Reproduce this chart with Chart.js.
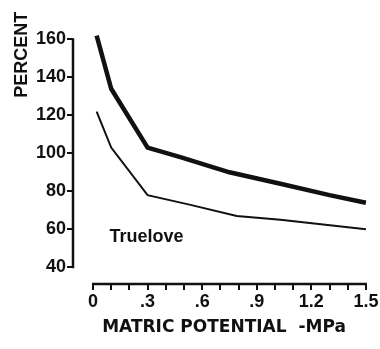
<!DOCTYPE html>
<html>
<head>
<meta charset="utf-8">
<script src="https://cdn.jsdelivr.net/npm/chart.js@4"></script>
<style>
  html, body { margin: 0; padding: 0; background: #fff; }
</style>
</head>
<body>
<canvas id="chart" width="380" height="349"></canvas>
<script>
// upper (thick) curve
const UPPER_X = [0.02, 0.1, 0.3, 0.48, 0.75, 1.03, 1.3, 1.5];
const UPPER_Y = [162, 134, 103, 98, 90, 84, 78, 74];
// lower (thin) curve
const LOWER_X = [0.02, 0.1, 0.3, 0.53, 0.79, 1.03, 1.5];
const LOWER_Y = [122, 103, 78, 73, 67, 65, 60];

const X_TICKS = [0, 0.1, 0.2, 0.3, 0.4, 0.5, 0.6, 0.7, 0.8, 0.9, 1.0, 1.1, 1.2, 1.3, 1.4, 1.5];
const X_LABEL_AT = [0, 0.3, 0.6, 0.9, 1.2, 1.5];
const X_LABELS = ['0', '.3', '.6', '.9', '1.2', '1.5'];
const Y_TICKS = [40, 60, 80, 100, 120, 140, 160];

const NOTE_TEXT = 'Truelove';
const NOTE_X = 0.09;
const NOTE_Y = 53.5;

const INK = '#111';
const FONT = '"Liberation Sans", Arial, sans-serif';
const WIDE_FONT = '"DejaVu Sans", sans-serif';

const toPoints = (xs, ys) => xs.map((x, i) => ({ x, y: ys[i] }));

// axis lines only over the labelled range, plus the text note
const axisLines = {
  id: 'axisLines',
  afterDraw(chart) {
    const { ctx, chartArea, scales: { x, y } } = chart;
    ctx.save();
    ctx.strokeStyle = INK;
    ctx.lineWidth = 2.5;
    ctx.beginPath();
    ctx.moveTo(chartArea.left, y.getPixelForValue(Y_TICKS[Y_TICKS.length - 1]) - 1);
    ctx.lineTo(chartArea.left, y.getPixelForValue(Y_TICKS[0]) + 1);
    ctx.moveTo(x.getPixelForValue(X_TICKS[0]) - 1, chartArea.bottom);
    ctx.lineTo(x.getPixelForValue(X_TICKS[X_TICKS.length - 1]) + 1, chartArea.bottom);
    ctx.stroke();

    ctx.fillStyle = INK;
    ctx.font = 'bold 18px ' + FONT;
    ctx.textBaseline = 'alphabetic';
    ctx.fillText(NOTE_TEXT, x.getPixelForValue(NOTE_X), y.getPixelForValue(NOTE_Y));
    ctx.restore();
  }
};

new Chart(document.getElementById('chart'), {
  type: 'line',
  data: {
    datasets: [
      {
        data: toPoints(UPPER_X, UPPER_Y),
        borderColor: INK,
        borderWidth: 4.5,
        pointRadius: 0,
        tension: 0,
        fill: false,
      },
      {
        data: toPoints(LOWER_X, LOWER_Y),
        borderColor: INK,
        borderWidth: 2,
        pointRadius: 0,
        tension: 0,
        fill: false,
      },
    ],
  },
  options: {
    responsive: false,
    animation: false,
    layout: { padding: { top: 8, right: 5, left: 0, bottom: 0 } },
    plugins: { legend: { display: false }, tooltip: { enabled: false } },
    scales: {
      x: {
        type: 'linear',
        min: -0.11,
        max: 1.55,
        afterBuildTicks: s => { s.ticks = X_TICKS.map(v => ({ value: v })); },
        afterFit: s => { s.height = 65; },
        border: { display: false },
        grid: { drawOnChartArea: false, drawTicks: true, tickLength: 6, color: INK, lineWidth: 2 },
        ticks: {
          autoSkip: false,
          maxRotation: 0,
          padding: 1,
          color: INK,
          font: { family: FONT, size: 18, weight: 'bold' },
          callback: v => {
            const i = X_LABEL_AT.findIndex(t => Math.abs(t - v) < 1e-6);
            return i >= 0 ? X_LABELS[i] : '';
          },
        },
        title: {
          display: true,
          text: 'MATRIC POTENTIAL  -MPa',
          color: INK,
          font: { family: WIDE_FONT, size: 17, weight: 'bold' },
          padding: { top: 4, bottom: 11 },
        },
      },
      y: {
        type: 'linear',
        min: 31.2,
        max: 174.5,
        afterBuildTicks: s => { s.ticks = Y_TICKS.map(v => ({ value: v })); },
        afterFit: s => { s.width = 73; },
        border: { display: false },
        grid: { drawOnChartArea: false, drawTicks: true, tickLength: 6, color: INK, lineWidth: 2 },
        ticks: {
          padding: 1,
          color: INK,
          font: { family: FONT, size: 18, weight: 'bold' },
        },
        title: {
          display: true,
          text: 'PERCENT',
          align: 'end',
          color: INK,
          font: { family: FONT, size: 18, weight: 'bold' },
          padding: { top: 11, bottom: 0 },
        },
      },
    },
  },
  plugins: [axisLines],
});
</script>
</body>
</html>
